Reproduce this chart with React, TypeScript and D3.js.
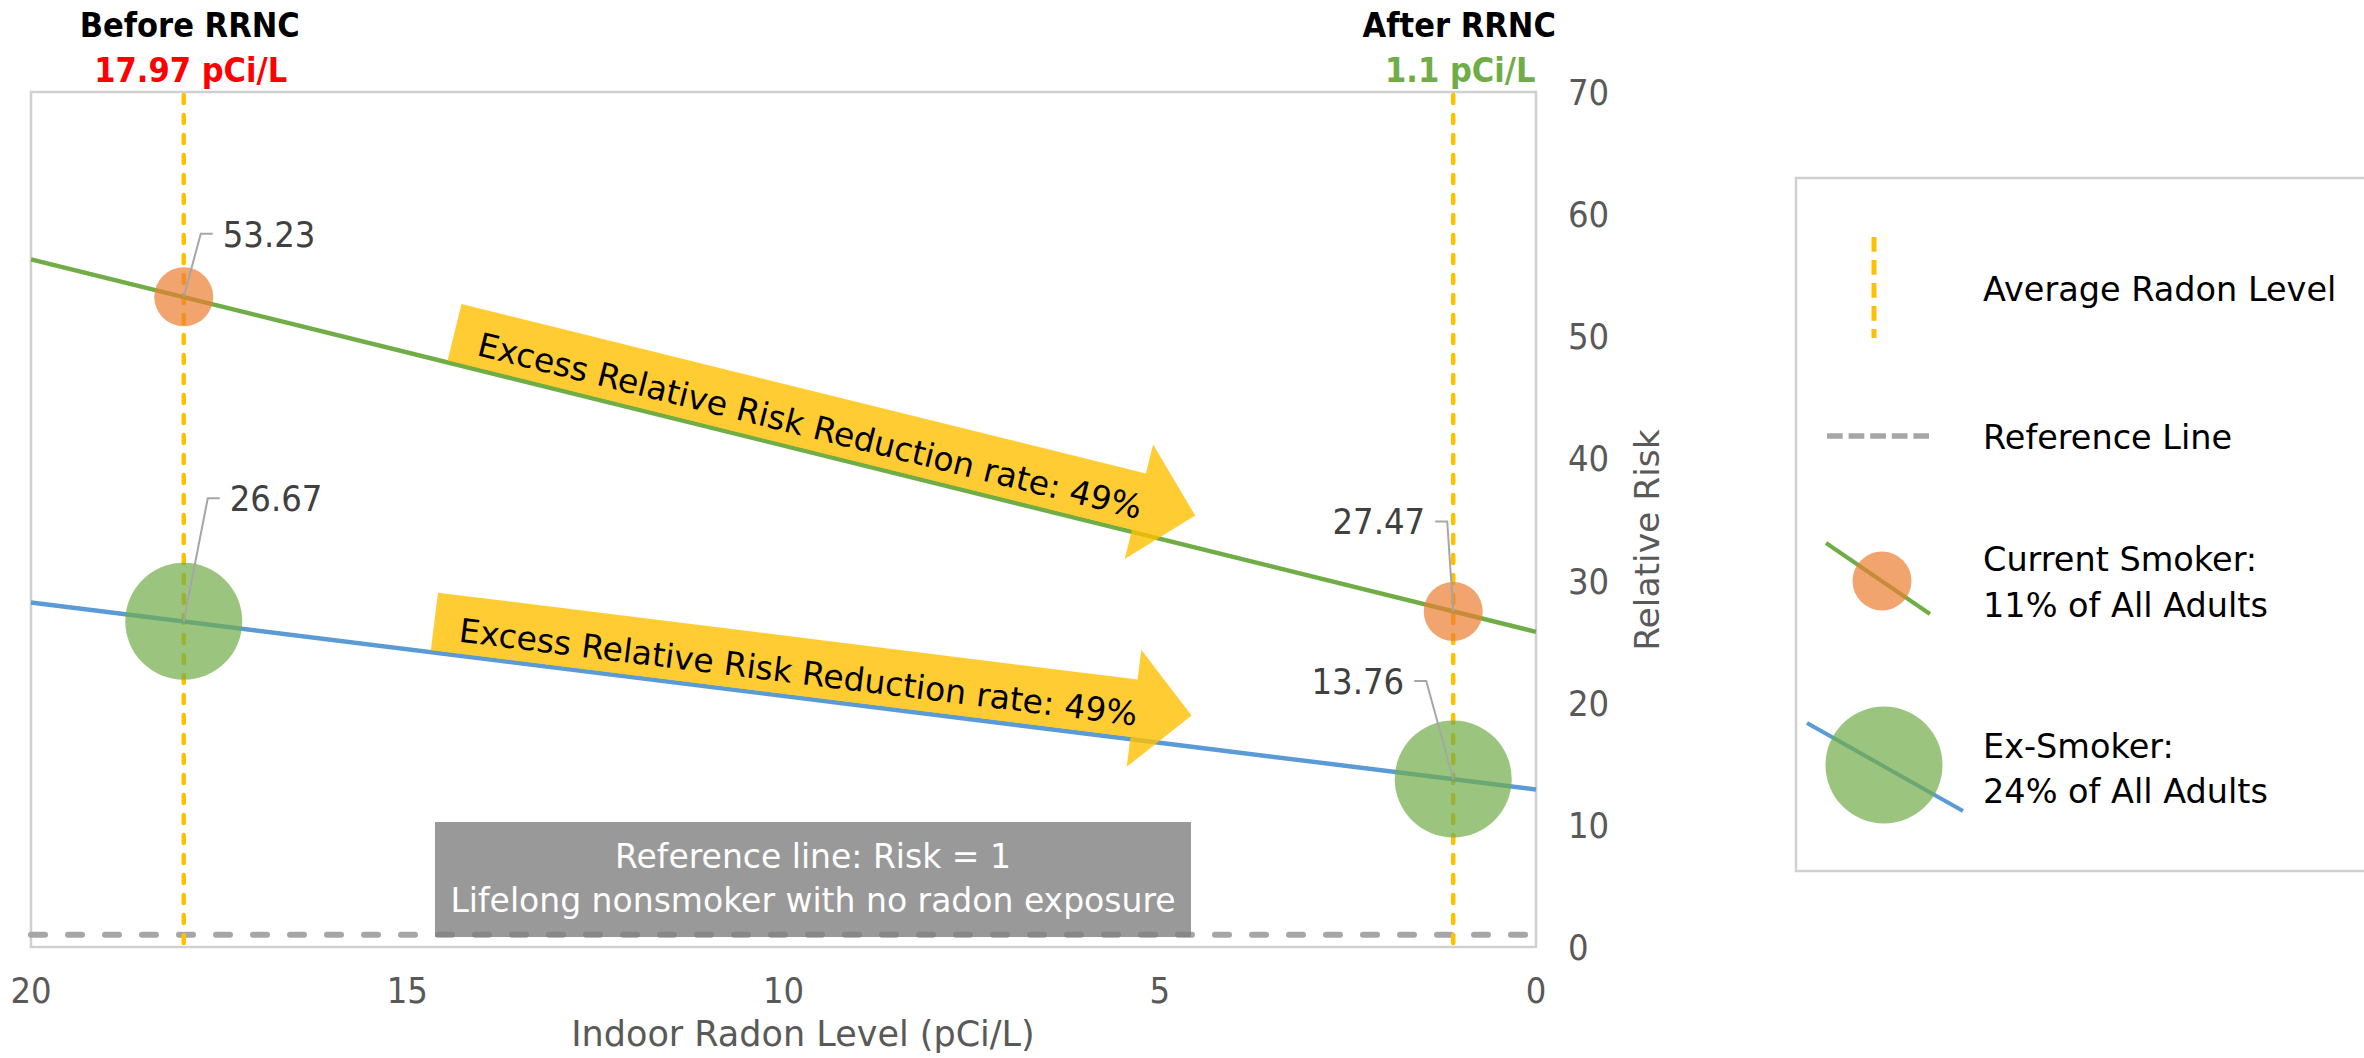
import React from 'react';
import * as d3 from 'd3';

// Radon levels (pCi/L) before and after the RRNC mitigation
const radonLevels = [17.97, 1.1];
const stageTitles = ['Before RRNC', 'After RRNC'];
const stageLevelLabels = ['17.97 pCi/L', '1.1 pCi/L'];
const stageLevelColors = ['#FF0000', '#70AD47'];

// Relative lung-cancer risk at each radon level
const currentSmokerRisk = [53.23, 27.47];
const exSmokerRisk = [26.67, 13.76];

// Trend lines drawn across the full x range (value at 20 and at 0 pCi/L)
const trendX = [20, 0];
const currentSmokerTrend = [56.3, 25.8];
const exSmokerTrend = [28.2, 12.9];

// Share of all adults in each smoking group (bubble size)
const groupShares = [11, 24];
const reductionRates = [49, 49];
const referenceRisk = 1;

const xTicks = [20, 15, 10, 5, 0];
const yTicks = [0, 10, 20, 30, 40, 50, 60, 70];

const FONT_C = "'DejaVu Sans Condensed', 'DejaVu Sans', sans-serif";
const FONT = "'DejaVu Sans', sans-serif";

const W = 2364;
const H = 1058;
const plot = { left: 31, right: 1536, top: 92, bottom: 947 };

const x = d3.scaleLinear().domain([20, 0]).range([plot.left, plot.right]);
const y = d3.scaleLinear().domain([0, 70]).range([plot.bottom, plot.top]);
const r = d3.scaleLinear().domain([11, 24]).range([29.5, 58.5]);

const lineGen = d3
  .line<[number, number]>()
  .x((d) => x(d[0]))
  .y((d) => y(d[1]));

const ORANGE_DOT = 'rgba(237,125,49,0.7)';
const GREEN_DOT = 'rgba(112,173,71,0.7)';
const GREEN = '#70AD47';
const BLUE = '#5B9BD5';
const YELLOW = '#FFC000';

type Series = {
  name: string;
  risk: number[];
  trend: number[];
  lineColor: string;
  dotColor: string;
  share: number;
  rate: number;
  arrowFrom: number;
  // leader elbow offset from the bubble centre and which side the label sits on
  labels: { ex: number; ey: number; side: 1 | -1 }[];
};

const series: Series[] = [
  {
    name: 'current',
    risk: currentSmokerRisk,
    trend: currentSmokerTrend,
    lineColor: GREEN,
    dotColor: ORANGE_DOT,
    share: groupShares[0],
    rate: reductionRates[0],
    arrowFrom: 14.47,
    labels: [
      { ex: 17, ey: -63, side: 1 },
      { ex: -6, ey: -90, side: -1 },
    ],
  },
  {
    name: 'ex',
    risk: exSmokerRisk,
    trend: exSmokerTrend,
    lineColor: BLUE,
    dotColor: GREEN_DOT,
    share: groupShares[1],
    rate: reductionRates[1],
    arrowFrom: 14.69,
    labels: [
      { ex: 24, ey: -123, side: 1 },
      { ex: -27, ey: -98, side: -1 },
    ],
  },
];

function Arrow({ s }: { s: Series }) {
  const x0 = x(trendX[0]);
  const y0 = y(s.trend[0]);
  const x1 = x(trendX[1]);
  const y1 = y(s.trend[1]);
  const theta = Math.atan2(y1 - y0, x1 - x0);
  const fx = x(s.arrowFrom);
  const fy = y0 + ((fx - x0) / (x1 - x0)) * (y1 - y0);
  const off = 31;
  const ax = fx + Math.sin(theta) * off;
  const ay = fy - Math.cos(theta) * off;
  const L = 763;
  const hl = 58;
  const bh = 29;
  const hw = 59;
  const pts = [
    [0, -bh],
    [L - hl, -bh],
    [L - hl, -hw],
    [L, 0],
    [L - hl, hw],
    [L - hl, bh],
    [0, bh],
  ];
  return (
    <g transform={`translate(${ax},${ay}) rotate(${(theta * 180) / Math.PI})`}>
      <polygon points={pts.map((p) => p.join(',')).join(' ')} fill={YELLOW} fillOpacity={0.8} />
      <text x={26} y={17} fontSize={33} fontFamily={FONT} fill="#000">
        {`Excess Relative Risk Reduction rate: ${s.rate}%`}
      </text>
    </g>
  );
}

export default function App() {
  return (
    <svg
      width={W}
      height={H}
      viewBox={`0 0 ${W} ${H}`}
      style={{ position: 'absolute', left: 0, top: 0, background: '#fff' }}
    >
      <rect x={0} y={0} width={W} height={H} fill="#fff" />

      {/* plot frame */}
      <rect
        x={plot.left}
        y={plot.top}
        width={plot.right - plot.left}
        height={plot.bottom - plot.top}
        fill="none"
        stroke="#D0D0D0"
        strokeWidth={2.5}
      />

      {/* reference line: risk = 1 */}
      <line
        x1={plot.left}
        x2={plot.right}
        y1={y(referenceRisk)}
        y2={y(referenceRisk)}
        stroke="#A6A6A6"
        strokeWidth={6}
        strokeDasharray="14 23"
        strokeLinecap="round"
      />

      {/* average radon levels */}
      {radonLevels.map((lv, i) => (
        <line
          key={`lv${i}`}
          x1={x(lv)}
          x2={x(lv)}
          y1={plot.top + 3}
          y2={plot.bottom + 2}
          stroke={YELLOW}
          strokeWidth={4.5}
          strokeDasharray="8 12"
          strokeLinecap="round"
        />
      ))}

      {/* trend lines */}
      {series.map((s) => (
        <path
          key={`t${s.name}`}
          d={lineGen(trendX.map((v, i) => [v, s.trend[i]] as [number, number])) || ''}
          fill="none"
          stroke={s.lineColor}
          strokeWidth={4.5}
        />
      ))}

      {/* bubbles */}
      {series.map((s) =>
        radonLevels.map((lv, i) => (
          <circle key={`c${s.name}${i}`} cx={x(lv)} cy={y(s.risk[i])} r={r(s.share)} fill={s.dotColor} />
        ))
      )}

      {/* data labels with leader lines */}
      {series.map((s) =>
        radonLevels.map((lv, i) => {
          const px = x(lv);
          const py = y(s.risk[i]);
          const l = s.labels[i];
          const exx = px + l.ex;
          const eyy = py + l.ey;
          const tail = 12 * l.side;
          return (
            <g key={`l${s.name}${i}`}>
              <polyline
                points={`${px},${py} ${exx},${eyy} ${exx + tail},${eyy}`}
                fill="none"
                stroke="#A6A6A6"
                strokeWidth={2}
              />
              <text
                x={exx + tail + 10 * l.side}
                y={eyy}
                dy="0.36em"
                textAnchor={l.side === 1 ? 'start' : 'end'}
                fontSize={36}
                fontFamily={FONT_C}
                fill="#404040"
              >
                {s.risk[i].toFixed(2)}
              </text>
            </g>
          );
        })
      )}

      {/* reduction arrows */}
      {series.map((s) => (
        <Arrow key={`a${s.name}`} s={s} />
      ))}

      {/* reference line note */}
      <rect x={435} y={822} width={756} height={115} fill="#7F7F7F" fillOpacity={0.8} />
      <text x={813} y={868} textAnchor="middle" fontSize={33} fontFamily={FONT} fill="#fff">
        Reference line: Risk = 1
      </text>
      <text x={813} y={912} textAnchor="middle" fontSize={33} fontFamily={FONT} fill="#fff">
        Lifelong nonsmoker with no radon exposure
      </text>

      {/* stage headings */}
      {radonLevels.map((lv, i) => (
        <g key={`h${i}`} fontFamily={FONT_C} fontWeight="bold" textAnchor="middle">
          <text x={x(lv) + 6} y={37} fontSize={34} fill="#000">
            {stageTitles[i]}
          </text>
          <text x={x(lv) + 7} y={82} fontSize={34} fill={stageLevelColors[i]}>
            {stageLevelLabels[i]}
          </text>
        </g>
      ))}

      {/* x axis */}
      {xTicks.map((t) => (
        <text
          key={`xt${t}`}
          x={x(t)}
          y={1003}
          textAnchor="middle"
          fontSize={36}
          fontFamily={FONT_C}
          fill="#595959"
        >
          {t}
        </text>
      ))}
      <text x={803} y={1046} textAnchor="middle" fontSize={35} fontFamily={FONT} fill="#595959">
        Indoor Radon Level (pCi/L)
      </text>

      {/* y axis (right side) */}
      {yTicks.map((t) => (
        <text
          key={`yt${t}`}
          x={1568}
          y={y(t)}
          dy="0.36em"
          textAnchor="start"
          fontSize={36}
          fontFamily={FONT_C}
          fill="#595959"
        >
          {t}
        </text>
      ))}
      <text
        transform="translate(1647,540) rotate(-90)"
        textAnchor="middle"
        dy="0.36em"
        fontSize={34.5}
        fontFamily={FONT}
        fill="#595959"
      >
        Relative Risk
      </text>

      {/* legend */}
      <g fontFamily={FONT} fontSize={33.5} fill="#000">
        <rect x={1796} y={178} width={620} height={693} fill="#fff" stroke="#D0D0D0" strokeWidth={2.5} />
        <line x1={1874} x2={1874} y1={237} y2={338} stroke={YELLOW} strokeWidth={5} strokeDasharray="14.7 8.3" />
        <text x={1983} y={301}>Average Radon Level</text>

        <line x1={1827} x2={1929} y1={436} y2={436} stroke="#A6A6A6" strokeWidth={5.5} strokeDasharray="15.7 5.9" />
        <text x={1983} y={449}>Reference Line</text>

        <line x1={1826} y1={543} x2={1930} y2={614} stroke={GREEN} strokeWidth={4} />
        <circle cx={1882} cy={581} r={r(groupShares[0])} fill={ORANGE_DOT} />
        <text x={1983} y={571}>Current Smoker:</text>
        <text x={1983} y={617}>{`${groupShares[0]}% of All Adults`}</text>

        <line x1={1807} y1={723} x2={1963} y2={811} stroke={BLUE} strokeWidth={4} />
        <circle cx={1884} cy={765} r={r(groupShares[1])} fill={GREEN_DOT} />
        <text x={1983} y={758}>Ex-Smoker:</text>
        <text x={1983} y={803}>{`${groupShares[1]}% of All Adults`}</text>
      </g>
    </svg>
  );
}
